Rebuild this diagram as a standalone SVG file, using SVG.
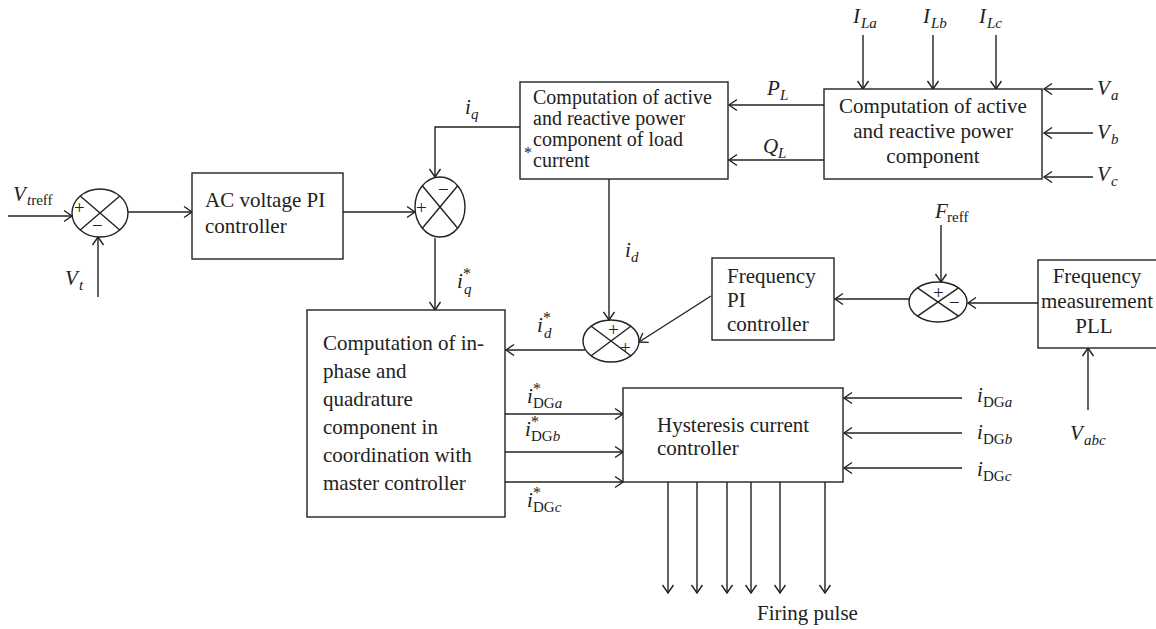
<svg xmlns="http://www.w3.org/2000/svg" width="1156" height="629" viewBox="0 0 1156 629">
<style>
  .box{fill:#fff;stroke:#222;stroke-width:1.4}
  .ln{fill:none;stroke:#222;stroke-width:1.4}
  .arr{fill:none;stroke:#222;stroke-width:1.4;marker-end:url(#ah)}
  text{font-family:"Liberation Serif","Times New Roman",serif;fill:#222}
  .t{font-size:21px}
  .t2{font-size:20px}
  .mi{font-size:21px;font-style:italic}
  .sub{font-size:15px}
  .subi{font-size:15px;font-style:italic}
  .sg{font-size:19px}
  .st{font-size:16px}
</style>
<defs>
  <marker id="ah" markerUnits="userSpaceOnUse" markerWidth="12" markerHeight="14" refX="9" refY="7" orient="auto">
    <path d="M1,1.5 L9,7 L1,12.5" fill="none" stroke="#222" stroke-width="1.4"/>
  </marker>
</defs>
<rect width="1156" height="629" fill="#fff"/>

<g id="connectors">
  <line class="arr" x1="8" y1="216" x2="72" y2="216"/>
  <line class="arr" x1="98" y1="297" x2="98" y2="237"/>
  <line class="arr" x1="128" y1="212" x2="192" y2="212"/>
  <line class="arr" x1="343" y1="212" x2="415" y2="212"/>
  <polyline class="arr" points="520,127 435,127 435,177"/>
  <line class="arr" x1="435" y1="238" x2="435" y2="310"/>
  <line class="arr" x1="824" y1="105" x2="729" y2="105"/>
  <line class="arr" x1="824" y1="160" x2="729" y2="160"/>
  <line class="arr" x1="863" y1="35" x2="863" y2="89"/>
  <line class="arr" x1="933" y1="35" x2="933" y2="89"/>
  <line class="arr" x1="996" y1="35" x2="996" y2="89"/>
  <line class="arr" x1="1093" y1="89" x2="1044" y2="89"/>
  <line class="arr" x1="1093" y1="133" x2="1044" y2="133"/>
  <line class="arr" x1="1093" y1="177" x2="1044" y2="177"/>
  <line class="arr" x1="609" y1="179" x2="609" y2="320"/>
  <line class="arr" x1="941" y1="225" x2="941" y2="282"/>
  <line class="arr" x1="1038" y1="303" x2="968" y2="303"/>
  <line class="arr" x1="909" y1="299" x2="835" y2="299"/>
  <line class="arr" x1="711" y1="296" x2="639" y2="342"/>
  <line class="arr" x1="585" y1="350" x2="506" y2="350"/>
  <line class="arr" x1="1088" y1="410" x2="1088" y2="348"/>
  <line class="arr" x1="505" y1="414" x2="623" y2="414"/>
  <line class="arr" x1="505" y1="452" x2="623" y2="452"/>
  <line class="arr" x1="505" y1="482" x2="623" y2="482"/>
  <line class="arr" x1="962" y1="398" x2="844" y2="398"/>
  <line class="arr" x1="962" y1="433" x2="844" y2="433"/>
  <line class="arr" x1="962" y1="468" x2="844" y2="468"/>
  <line class="arr" x1="668" y1="482" x2="668" y2="593"/>
  <line class="arr" x1="697" y1="482" x2="697" y2="593"/>
  <line class="arr" x1="727" y1="482" x2="727" y2="593"/>
  <line class="arr" x1="751" y1="482" x2="751" y2="593"/>
  <line class="arr" x1="780" y1="482" x2="780" y2="593"/>
  <line class="arr" x1="825" y1="482" x2="825" y2="593"/>
</g>

<g id="sum1">
  <ellipse class="box" cx="100" cy="213" rx="28" ry="24"/>
  <path class="ln" d="M80.2,196 L119.8,230 M119.8,196 L80.2,230"/>
  <text class="sg" x="74" y="214">+</text>
  <text class="sg" x="92" y="232">−</text>
</g>

<g id="sum2">
  <ellipse class="box" cx="440" cy="207" rx="25" ry="30"/>
  <path class="ln" d="M422.3,185.8 L457.7,228.2 M457.7,185.8 L422.3,228.2"/>
  <text class="sg" x="438" y="196">−</text>
  <text class="sg" x="416" y="214">+</text>
</g>

<g id="sum3">
  <ellipse class="box" cx="611" cy="341" rx="28" ry="21"/>
  <path class="ln" d="M591.2,326.2 L630.8,355.8 M630.8,326.2 L591.2,355.8"/>
  <text class="sg" x="608" y="336">+</text>
  <text class="sg" x="620" y="354">+</text>
</g>

<g id="sum4">
  <ellipse class="box" cx="938" cy="302" rx="29" ry="20"/>
  <path class="ln" d="M917.5,287.9 L958.5,316.1 M958.5,287.9 L917.5,316.1"/>
  <text class="sg" x="933" y="299">+</text>
  <text class="sg" x="949" y="309">−</text>
</g>

<g id="ac-pi">
  <rect class="box" x="192" y="173" width="151" height="86"/>
  <text class="t" x="205" y="207">AC voltage PI</text>
  <text class="t" x="205" y="233">controller</text>
</g>

<g id="load-comp">
  <rect class="box" x="520" y="82" width="208" height="97"/>
  <text class="t2" x="533" y="104">Computation of active</text>
  <text class="t2" x="533" y="125">and reactive power</text>
  <text class="t2" x="533" y="146">component of load</text>
  <text class="t2" x="533" y="167">current</text>
  <text class="st" x="524" y="158">*</text>
</g>

<g id="power-comp">
  <rect class="box" x="824" y="89" width="218" height="90"/>
  <text class="t" x="933" y="113" text-anchor="middle">Computation of active</text>
  <text class="t" x="933" y="138" text-anchor="middle">and reactive power</text>
  <text class="t" x="933" y="163" text-anchor="middle">component</text>
</g>

<g id="freq-pi">
  <rect class="box" x="712" y="258" width="122" height="82"/>
  <text class="t" x="727" y="283">Frequency</text>
  <text class="t" x="727" y="307">PI</text>
  <text class="t" x="727" y="331">controller</text>
</g>

<g id="pll">
  <rect class="box" x="1038" y="260" width="130" height="88"/>
  <text class="t" x="1097" y="283" text-anchor="middle">Frequency</text>
  <text class="t" x="1097" y="308" text-anchor="middle">measurement</text>
  <text class="t" x="1094" y="333" text-anchor="middle">PLL</text>
</g>

<g id="coord">
  <rect class="box" x="307" y="310" width="198" height="207"/>
  <text class="t" x="323" y="350">Computation of in-</text>
  <text class="t" x="323" y="378">phase and</text>
  <text class="t" x="323" y="406">quadrature</text>
  <text class="t" x="323" y="434">component in</text>
  <text class="t" x="323" y="462">coordination with</text>
  <text class="t" x="323" y="490">master controller</text>
</g>

<g id="hysteresis">
  <rect class="box" x="623" y="388" width="220" height="94"/>
  <text class="t" x="657" y="432">Hysteresis current</text>
  <text class="t" x="657" y="455">controller</text>
</g>

<g id="labels">
  <text class="mi" x="13" y="201">V</text><text x="27" y="205"><tspan class="subi">t</tspan><tspan class="sub">reff</tspan></text>
  <text class="mi" x="65" y="285">V</text><text class="subi" x="79" y="290">t</text>
  <text class="mi" x="465" y="114">i</text><text class="subi" x="471" y="119">q</text>
  <text class="mi" x="457" y="288">i</text><text class="st" x="463" y="279">*</text><text class="subi" x="464" y="294">q</text>
  <text class="mi" x="625" y="257">i</text><text class="subi" x="631" y="262">d</text>
  <text class="mi" x="537" y="332">i</text><text class="st" x="543" y="323">*</text><text class="subi" x="544" y="338">d</text>
  <text class="mi" x="767" y="95">P</text><text class="subi" x="780" y="100">L</text>
  <text class="mi" x="763" y="153">Q</text><text class="subi" x="778" y="158">L</text>
  <text class="mi" x="853" y="23">I</text><text class="subi" x="861" y="28">La</text>
  <text class="mi" x="923" y="23">I</text><text class="subi" x="931" y="28">Lb</text>
  <text class="mi" x="979" y="23">I</text><text class="subi" x="987" y="28">Lc</text>
  <text class="mi" x="1097" y="95">V</text><text class="subi" x="1111" y="100">a</text>
  <text class="mi" x="1097" y="139">V</text><text class="subi" x="1111" y="144">b</text>
  <text class="mi" x="1097" y="181">V</text><text class="subi" x="1111" y="186">c</text>
  <text class="mi" x="935" y="218">F</text><text class="sub" x="947" y="222">reff</text>
  <text class="mi" x="1070" y="440">V</text><text class="subi" x="1084" y="445">abc</text>
  <text class="mi" x="527" y="403">i</text><text class="st" x="533" y="394">*</text><text x="533" y="408"><tspan class="sub">DG</tspan><tspan class="subi">a</tspan></text>
  <text class="mi" x="525" y="436">i</text><text class="st" x="531" y="427">*</text><text x="531" y="441"><tspan class="sub">DG</tspan><tspan class="subi">b</tspan></text>
  <text class="mi" x="527" y="507">i</text><text class="st" x="533" y="498">*</text><text x="533" y="512"><tspan class="sub">DG</tspan><tspan class="subi">c</tspan></text>
  <text class="mi" x="977" y="402">i</text><text x="983" y="407"><tspan class="sub">DG</tspan><tspan class="subi">a</tspan></text>
  <text class="mi" x="977" y="439">i</text><text x="983" y="444"><tspan class="sub">DG</tspan><tspan class="subi">b</tspan></text>
  <text class="mi" x="977" y="476">i</text><text x="983" y="481"><tspan class="sub">DG</tspan><tspan class="subi">c</tspan></text>
  <text class="t" x="757" y="620">Firing pulse</text>
</g>
</svg>
